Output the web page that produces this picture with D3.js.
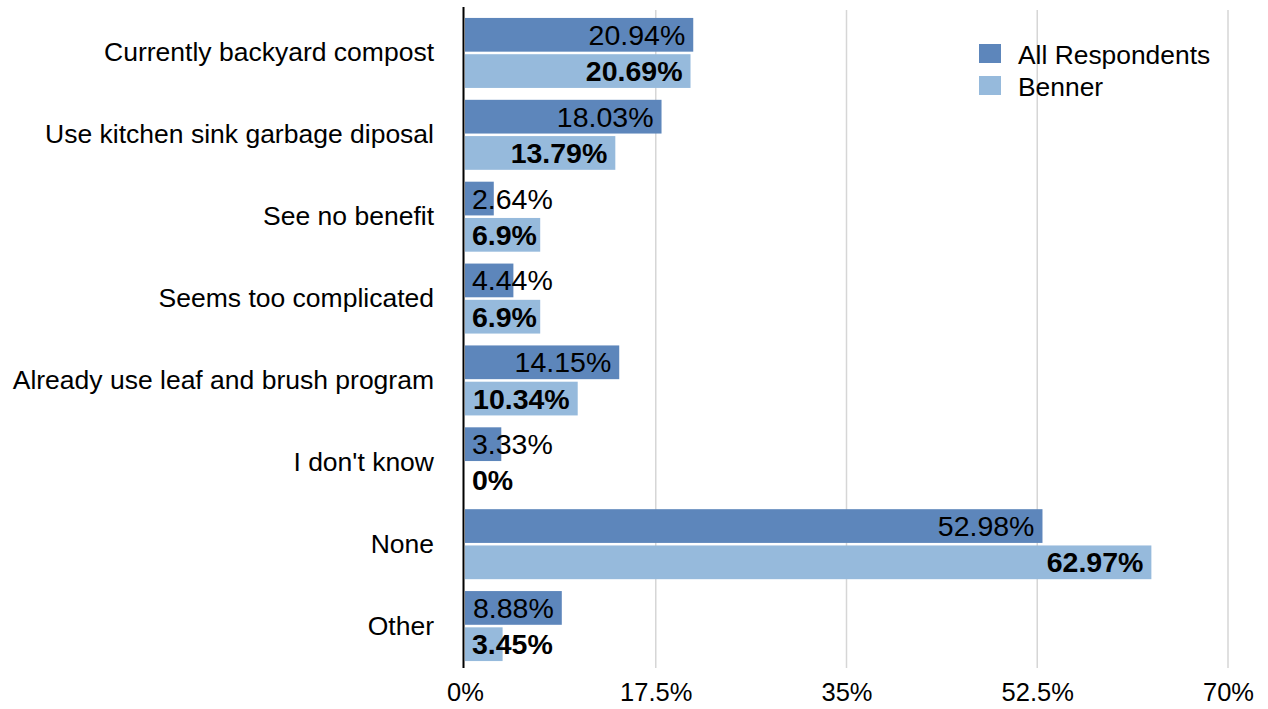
<!DOCTYPE html>
<html>
<head>
<meta charset="utf-8">
<script src="https://cdn.jsdelivr.net/npm/d3@7"></script>
<style>
  html, body { margin: 0; padding: 0; background: #fff; }
  svg text { font-family: "Liberation Sans", Arial, Helvetica, sans-serif; fill: #000; }
</style>
</head>
<body>
<svg id="chart" width="1268" height="709"></svg>
<script>
const categories = [
  "Currently backyard compost",
  "Use kitchen sink garbage diposal",
  "See no benefit",
  "Seems too complicated",
  "Already use leaf and brush program",
  "I don't know",
  "None",
  "Other"
];
const seriesNames = ["All Respondents", "Benner"];
const allRespondents = [20.94, 18.03, 2.64, 4.44, 14.15, 3.33, 52.98, 8.88];
const benner = [20.69, 13.79, 6.9, 6.9, 10.34, 0, 62.97, 3.45];
const tickValues = [0, 17.5, 35, 52.5, 70];
const tickLabels = ["0%", "17.5%", "35%", "52.5%", "70%"];
const colors = ["#5d86bb", "#96badc"];

const svg = d3.select("#chart");
const x = d3.scaleLinear().domain([0, 70]).range([465, 1228]);
const y0 = d3.scaleBand().domain(categories).range([12, 667]).paddingInner(0.145).paddingOuter(0.0725);
const y1 = d3.scaleBand().domain([0, 1]).range([0, y0.bandwidth()]).paddingInner(0.07);

const plotTop = 10, plotBottom = 668;

// gridlines
svg.append("g").selectAll("line")
  .data(tickValues.slice(1))
  .join("line")
  .attr("x1", d => x(d)).attr("x2", d => x(d))
  .attr("y1", plotTop).attr("y2", plotBottom)
  .attr("stroke", "#d6d6d6").attr("stroke-width", 1.5);

// x axis tick labels
const xAxis = d3.axisBottom(x).tickValues(tickValues)
  .tickFormat((d, i) => tickLabels[i]).tickSize(0).tickPadding(0);
const gx = svg.append("g").attr("transform", `translate(0, ${plotBottom + 15})`).call(xAxis);
gx.select(".domain").remove();
gx.selectAll("text").attr("font-size", "25.5px").attr("fill", "#000")
  .attr("font-family", "Liberation Sans, Arial, sans-serif");

// y axis category labels
const yAxis = d3.axisLeft(y0).tickSize(0).tickPadding(0);
const gy = svg.append("g").attr("transform", `translate(434, 0)`).call(yAxis);
gy.select(".domain").remove();
gy.selectAll("text").attr("font-size", "26.5px").attr("fill", "#000")
  .attr("font-family", "Liberation Sans, Arial, sans-serif");

const data = categories.map((c, i) => ({ cat: c, vals: [allRespondents[i], benner[i]] }));

const groups = svg.append("g").selectAll("g")
  .data(data).join("g")
  .attr("transform", d => `translate(0, ${y0(d.cat)})`);

groups.selectAll("rect")
  .data(d => d.vals.map((v, s) => ({ v, s })))
  .join("rect")
  .attr("x", x(0))
  .attr("y", d => y1(d.s))
  .attr("width", d => x(d.v) - x(0))
  .attr("height", y1.bandwidth())
  .attr("fill", d => colors[d.s]);

groups.selectAll("text.val")
  .data(d => d.vals.map((v, s) => ({ v, s })))
  .join("text")
  .attr("class", "val")
  .attr("y", d => y1(d.s) + y1.bandwidth() / 2)
  .attr("dy", "0.35em")
  .attr("font-size", "28.5px")
  .attr("font-weight", d => d.s === 1 ? "bold" : "normal")
  .attr("text-anchor", "end")
  .text(d => d.v + "%")
  .each(function(d) {
    const w = this.getComputedTextLength();
    const xe = Math.max(x(d.v) - 8, x(0) + 7 + w);
    d3.select(this).attr("x", xe);
  });

// vertical axis line
svg.append("line")
  .attr("x1", 463.5).attr("x2", 463.5)
  .attr("y1", 7).attr("y2", plotBottom)
  .attr("stroke", "#000").attr("stroke-width", 2);

// legend
const legend = svg.append("g").attr("transform", "translate(979, 44)");
seriesNames.forEach((name, i) => {
  const g = legend.append("g").attr("transform", `translate(0, ${i * 32})`);
  g.append("rect").attr("width", 22).attr("height", 19).attr("fill", colors[i]);
  g.append("text").attr("x", 39).attr("y", 20).attr("font-size", "26.4px").text(name);
});
</script>
</body>
</html>
